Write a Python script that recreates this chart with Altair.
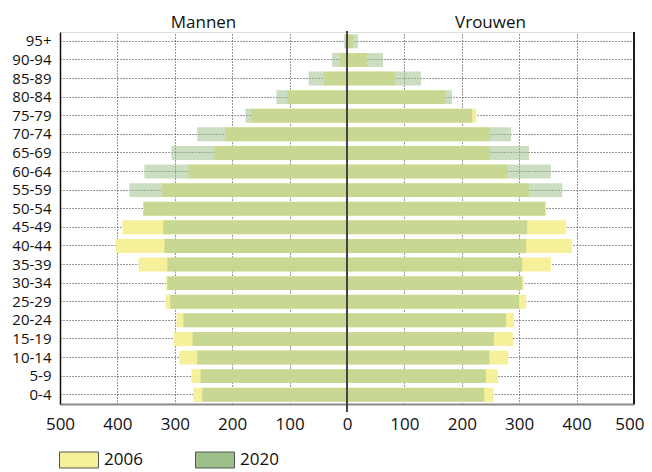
import altair as alt
import pandas as pd

ages = ["95+", "90-94", "85-89", "80-84", "75-79", "70-74", "65-69", "60-64",
        "55-59", "50-54", "45-49", "40-44", "35-39", "30-34", "25-29", "20-24",
        "15-19", "10-14", "5-9", "0-4"]
men_2006 = [3, 12, 40, 104, 167, 212, 231, 276, 322, 354, 391, 403, 363, 315, 316, 297, 302, 292, 271, 268]
men_2020 = [5, 26, 67, 123, 177, 261, 306, 353, 379, 355, 320, 318, 313, 313, 308, 285, 269, 261, 255, 252]
women_2006 = [11, 35, 84, 171, 225, 249, 249, 279, 317, 347, 382, 392, 355, 308, 312, 291, 289, 281, 263, 255]
women_2020 = [19, 63, 129, 183, 218, 286, 317, 355, 375, 345, 314, 312, 305, 305, 300, 277, 256, 248, 242, 239]
years = ["2006", "2020"]
side_titles = ["Mannen", "Vrouwen"]
tick_values = [-500, -400, -300, -200, -100, 0, 100, 200, 300, 400, 500]


def long_rows(yr, men, women):
    rows = []
    for i, a in enumerate(ages):
        rows.append({"age": a, "year": yr, "value": -men[i]})
        rows.append({"age": a, "year": yr, "value": women[i]})
    return pd.DataFrame(rows)


df06 = long_rows("2006", men_2006, women_2006)
df20 = long_rows("2020", men_2020, women_2020)
titles_df = pd.DataFrame({"label": side_titles, "pos": [-250, 250]})

FONT = "Open Sans"
W, H = 574, 372

xscale = alt.Scale(domain=[-500, 500], nice=False, zero=False)
x_enc = alt.X("value:Q", stack=None, scale=xscale, title=None,
              axis=alt.Axis(values=tick_values, labelExpr="abs(datum.value)",
                            grid=True, gridDash=[1, 2], gridColor="#333", gridWidth=1,
                            ticks=False, domainColor="#8a8a8a", domainWidth=2,
                            labelFontSize=17, labelPadding=12, labelColor="#111",
                            labelFont=FONT, labelFlush=False,
                            labelAlign={"expr": "datum.value == 500 ? 'right' : 'center'"},
                            labelOffset={"expr": "datum.value == 500 ? 10 : 0"}))
y_enc = alt.Y("age:N", sort=ages, title=None,
              scale=alt.Scale(paddingInner=0.25, paddingOuter=0.125),
              axis=alt.Axis(grid=True, gridDash=[1, 2], gridColor="#333", gridWidth=1,
                            ticks=False, domainColor="#111", domainWidth=1.5,
                            labelFontSize=15, labelPadding=9, labelColor="#111",
                            labelFont=FONT))
color_enc = alt.Color("year:N", scale=alt.Scale(domain=years, range=["#F7F09A", "#9DC08B"]),
                      legend=alt.Legend(title=None, orient="none", direction="horizontal",
                                        legendX=-1, legendY=408, padding=0,
                                        symbolType="M-1,-0.41H1V0.41H-1Z", symbolSize=1521,
                                        symbolStrokeColor="#555", symbolStrokeWidth=1,
                                        symbolOpacity=1, labelFontSize=17, labelFont=FONT,
                                        labelColor="#111", labelOffset=5, columnPadding=50))

bars06 = alt.Chart(df06).mark_bar(opacity=1).encode(x=x_enc, y=y_enc, color=color_enc)
bars20 = alt.Chart(df20).mark_bar(opacity=0.52).encode(x=x_enc, y=y_enc, color=color_enc)

zero_rule = alt.Chart(titles_df).mark_rule(color="#444", strokeWidth=2).encode(
    x=alt.datum(0), y=alt.value(-1), y2=alt.value(H + 8)
)
right_rule = alt.Chart(titles_df).mark_rule(color="#111", strokeWidth=1.5).encode(
    x=alt.datum(500), y=alt.value(0), y2=alt.value(H)
)

titles = alt.Chart(titles_df).mark_text(fontSize=17, font=FONT, color="#111",
                                        baseline="alphabetic", align="center").encode(
    x=alt.X("pos:Q", scale=xscale, title=None),
    y=alt.value(-4),
    text="label:N",
)

chart = alt.layer(bars06, bars20, zero_rule, right_rule, titles).properties(
    width=W, height=H,
    autosize=alt.AutoSizeParams(type="none"),
    padding={"left": 52, "top": 24, "right": 10, "bottom": 68},
).configure_view(stroke=None).configure(background="white")

chart.save("out.html", embed_options={"renderer": "svg", "actions": False})
